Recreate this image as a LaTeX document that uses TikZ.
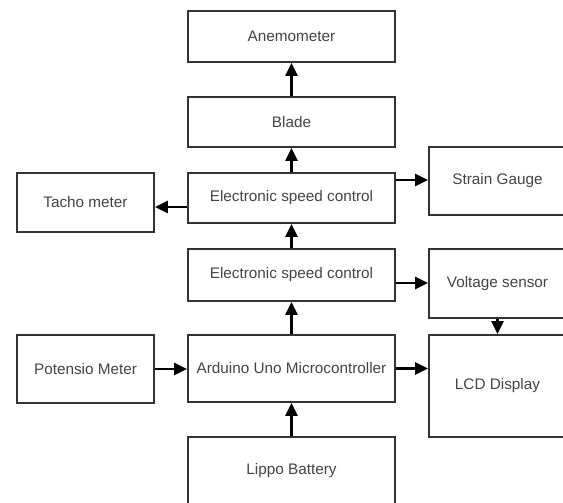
\documentclass[tikz,border=0pt]{standalone}
\usepackage{fontspec}
\setmainfont{Liberation Sans}
\usetikzlibrary{arrows.meta}
\definecolor{boxline}{HTML}{333333}
\definecolor{txt}{HTML}{444444}
\tikzset{
  blk/.style={draw=boxline, line width=1.8pt, fill=white, inner sep=0pt,
    text=txt, font=\fontsize{15.3}{18}\selectfont, anchor=center},
  arr/.style={draw=black, line width=2.8pt,
    -{Triangle[length=13pt,width=12pt]}}
}
\begin{document}
\begin{tikzpicture}[x=1pt,y=-1pt]
\useasboundingbox (0,0) rectangle (563,503);
\clip (0,0) rectangle (563,503);
\fill[white] (0,0) rectangle (563,503);
\node[blk, minimum width=207pt, minimum height=51pt] (anem) at (291.5,36.5) {Anemometer};
\node[blk, minimum width=207pt, minimum height=50pt] (blade) at (291.5,122) {Blade};
\node[blk, minimum width=207pt, minimum height=50pt] (esc1) at (291.5,198) {Electronic speed control};
\node[blk, minimum width=137pt, minimum height=59pt] (tacho) at (85.5,202.5) {Tacho meter};
\node[blk, minimum width=137pt, minimum height=68pt] (strain) at (497.5,181) {Strain Gauge};
\node[blk, minimum width=207pt, minimum height=52pt] (esc2) at (291.5,275) {Electronic speed control};
\node[blk, minimum width=137pt, minimum height=69pt] (volt) at (497.5,283.5) {Voltage sensor};
\node[blk, minimum width=137pt, minimum height=68pt] (pot) at (85.5,369) {Potensio Meter};
\node[blk, minimum width=207pt, minimum height=67pt] (ard) at (291.5,368.5) {Arduino Uno Microcontroller};
\node[blk, minimum width=137pt, minimum height=102pt] (lcd) at (497.5,386) {LCD Display};
\node[blk, minimum width=207pt, minimum height=68pt] (lippo) at (291.5,471) {Lippo Battery};
\draw[arr] (blade.north) -- (anem.south);
\draw[arr] (esc1.north) -- (blade.south);
\draw[arr] (esc2.north) -- (esc1.south);
\draw[arr] (ard.north) -- (esc2.south);
\draw[arr] (lippo.north) -- (ard.south);
\draw[arr] ([yshift=-9pt]esc1.west) -- ([yshift=-9pt]esc1.west -| tacho.east);
\draw[arr] ([yshift=18pt]esc1.east) -- ([yshift=18pt]esc1.east -| strain.west);
\draw[arr] ([yshift=-8pt]esc2.east) -- ([yshift=-8pt]esc2.east -| volt.west);
\draw[arr] (volt.south) -- (lcd.north);
\draw[arr] (pot.east) -- (pot.east -| ard.west);
\draw[arr] (ard.east) -- (ard.east -| lcd.west);
\end{tikzpicture}
\end{document}
